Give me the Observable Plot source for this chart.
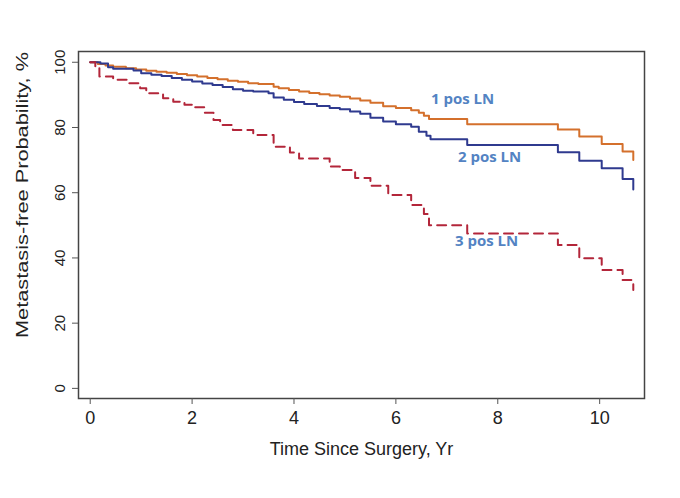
<!DOCTYPE html>
<html>
<head>
<meta charset="utf-8">
<script src="https://cdn.jsdelivr.net/npm/d3@7"></script>
<script src="https://cdn.jsdelivr.net/npm/@observablehq/plot@0.6"></script>
<style>
  html, body { margin: 0; padding: 0; background: #fff; }
  #chart svg { display: block; }
</style>
</head>
<body>
<div id="chart"></div>
<script>
// Kaplan–Meier step points: time (yr) at which each survival value begins
const t1 = [0, 0.15, 0.3, 0.45, 0.7, 0.9, 1.1, 1.3, 1.5, 1.7, 1.9, 2.1, 2.3, 2.5, 2.7, 2.9, 3.1, 3.3, 3.6, 3.7, 3.9, 4.1, 4.3, 4.5, 4.7, 4.9, 5.1, 5.3, 5.5, 5.75, 6.0, 6.3, 6.45, 6.55, 6.65, 7.4, 9.18, 9.6, 10.04, 10.45, 10.66];
const s1 = [100, 99.5, 99.0, 98.6, 98.2, 97.8, 97.4, 97.1, 96.8, 96.4, 96.0, 95.6, 95.2, 94.8, 94.3, 94.0, 93.6, 93.3, 92.5, 92.0, 91.5, 91.0, 90.6, 90.2, 89.8, 89.4, 88.9, 88.3, 87.6, 86.5, 86.0, 85.3, 84.5, 83.6, 82.6, 81.0, 79.4, 77.2, 74.9, 72.6, 70.0];

const t2 = [0, 0.2, 0.35, 0.45, 0.85, 1.0, 1.2, 1.4, 1.6, 1.8, 2.0, 2.2, 2.4, 2.6, 2.8, 3.0, 3.2, 3.5, 3.6, 3.8, 4.0, 4.2, 4.45, 4.7, 4.9, 5.1, 5.3, 5.5, 5.75, 6.0, 6.3, 6.45, 6.6, 6.68, 7.4, 9.18, 9.6, 10.04, 10.45, 10.66];
const s2 = [100, 99.6, 98.5, 98.0, 97.5, 96.6, 96.2, 95.8, 95.2, 94.6, 94.1, 93.5, 93.0, 92.4, 91.7, 91.3, 91.0, 90.5, 89.2, 88.5, 87.8, 87.2, 86.6, 86.0, 85.6, 84.9, 84.2, 83.0, 81.8, 81.0, 80.2, 78.7, 77.5, 76.4, 74.6, 72.4, 69.8, 67.5, 64.2, 61.0];

const t3 = [0, 0.1, 0.18, 0.45, 0.75, 0.98, 1.1, 1.43, 1.63, 1.85, 2.03, 2.25, 2.42, 2.55, 2.8, 3.2, 3.6, 3.92, 4.1, 4.7, 4.9, 5.2, 5.5, 5.85, 6.3, 6.55, 6.65, 7.4, 9.18, 9.6, 10.04, 10.45, 10.66];
const s3 = [100, 98.2, 95.6, 94.6, 93.6, 92.0, 90.5, 89.0, 87.9, 87.0, 86.2, 84.5, 82.3, 80.8, 79.2, 77.7, 74.1, 72.3, 70.5, 68.0, 67.0, 64.5, 62.1, 59.3, 56.2, 53.5, 50.0, 47.5, 44.0, 39.9, 36.3, 33.2, 30.2];

const seriesNames = ["1 pos LN", "2 pos LN", "3 pos LN"];
const labelX = [7.31, 7.84, 7.78];
const labelY = [88.6, 70.8, 45.0];

const xTicks = [0, 2, 4, 6, 8, 10];
const yTicks = [0, 20, 40, 60, 80, 100];
const xTitle = "Time Since Surgery, Yr";
const yTitle = "Metastasis-free Probability, %";

const toRows = (t, s) => t.map((x, i) => ({x, y: s[i]}));
const d1 = toRows(t1, s1), d2 = toRows(t2, s2), d3 = toRows(t3, s3);
const labels = seriesNames.map((name, i) => ({name, x: labelX[i], y: labelY[i]}));

const font = "'Liberation Sans', Arial, Helvetica, sans-serif";

const chart = Plot.plot({
  width: 680,
  height: 498,
  marginLeft: 78,
  marginRight: 36,
  marginTop: 51,
  marginBottom: 100,
  style: {fontFamily: font, background: "#fff", color: "#222"},
  x: {domain: [-0.23, 10.88]},
  y: {domain: [-3.1, 103.3]},
  marks: [
    Plot.frame({stroke: "#444", strokeWidth: 1.5}),
    Plot.axisX({ticks: xTicks, tickSize: 6, tickPadding: 7, fontSize: 18, stroke: "#555", label: null}),
    Plot.axisY({ticks: yTicks, tickSize: 6, tickPadding: 8, tickRotate: -90, fontSize: 15, stroke: "#555", label: null}),
    Plot.text([xTitle], {frameAnchor: "bottom", dy: 56, fontSize: 18, fill: "#222"}),
    Plot.text([yTitle], {frameAnchor: "left", textAnchor: "middle", dx: -56, dy: -30, rotate: -90, fontSize: 17, fill: "#222", className: "ytitle"}),
    Plot.line(d1, {x: "x", y: "y", curve: "step-after", stroke: "#d4702c", strokeWidth: 2}),
    Plot.line(d2, {x: "x", y: "y", curve: "step-after", stroke: "#2f3a8f", strokeWidth: 2}),
    Plot.line(d3, {x: "x", y: "y", curve: "step-after", stroke: "#b3263a", strokeWidth: 2, strokeDasharray: "9,6"}),
    Plot.text(labels, {x: "x", y: "y", text: "name", fill: "#5383c3", fontSize: 15, fontWeight: "bold", fontFamily: "'Open Sans', Lato, sans-serif"})
  ]
});
// the reference's y title is drawn slightly elongated along its baseline
chart.querySelectorAll(".ytitle text").forEach((el) => {
  el.setAttribute("textLength", "286");
  el.setAttribute("lengthAdjust", "spacingAndGlyphs");
});
document.getElementById("chart").appendChild(chart);
</script>
</body>
</html>
